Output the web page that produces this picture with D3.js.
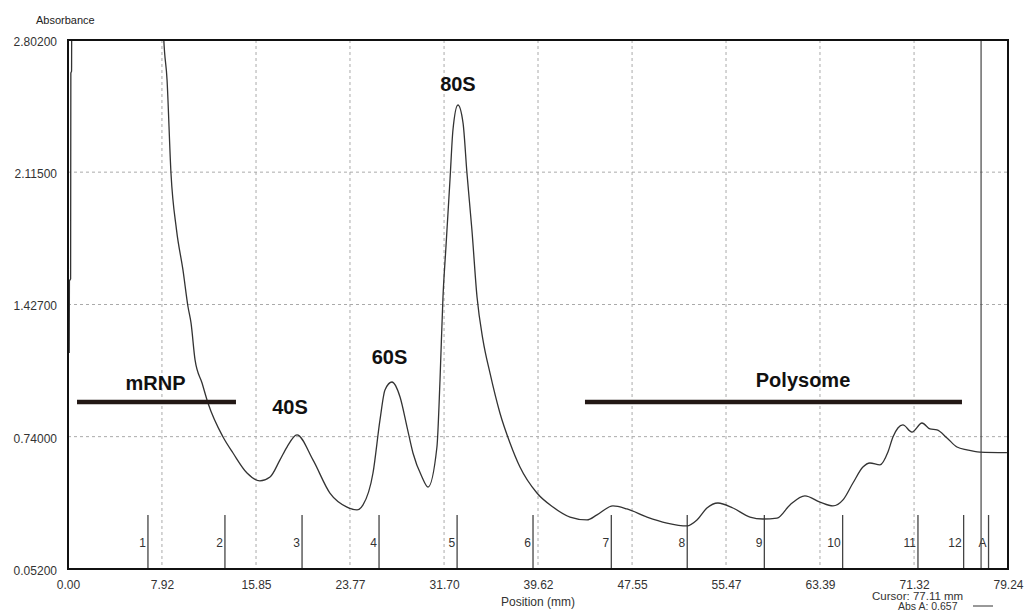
<!DOCTYPE html>
<html>
<head>
<meta charset="utf-8">
<script src="https://cdn.jsdelivr.net/npm/d3@7"></script>
<style>
  body { margin: 0; background: #fff; }
  svg { display: block; font-family: Arial, "Liberation Sans", sans-serif; }
</style>
</head>
<body>
<svg id="chart" width="1030" height="610"></svg>
<script>
// trace (mm, absorbance); values above 2.802 are off-scale
var positionMM = [0.10, 0.12, 0.22, 0.24, 0.30, 0.33, 7.9, 8.05, 8.35, 8.68, 9.15, 9.69, 10.12, 10.37, 10.71,
  11.30, 11.80, 13.07, 13.91, 15.09, 16.18, 17.03, 17.87, 18.46, 19.30, 20.65, 22.08, 23.52, 24.36,
  24.87, 25.71, 26.30, 26.72, 27.31, 27.99, 28.58, 29.08, 29.84, 30.35, 31.10, 31.36, 31.61, 31.86,
  32.20, 32.45, 32.87, 33.30, 33.63, 34.05, 34.48, 34.98, 35.57, 36.41, 37.26, 38.10, 39.53, 40.88,
  42.32, 43.75, 44.59, 45.94, 47.12, 48.81, 50.49, 52.18, 53.02, 53.86, 54.79, 56.05, 57.49, 58.58,
  59.77, 60.86, 62.12, 63.39, 64.48, 65.33, 66.17, 67.01, 67.60, 68.45, 69.12, 69.54, 69.96, 70.38,
  71.14, 71.99, 72.66, 73.25, 74.10, 74.94, 75.78, 76.88, 79.15];
var absorbance = [1.175, 1.55, 1.56, 2.63, 2.64, 3.4, 3.4, 2.84, 2.594, 2.111, 1.814, 1.607, 1.414, 1.331, 1.139,
  1.019, 0.915, 0.738, 0.655, 0.551, 0.510, 0.530, 0.619, 0.686, 0.749, 0.619, 0.447, 0.374, 0.359,
  0.385, 0.551, 0.827, 0.983, 1.024, 0.946, 0.790, 0.655, 0.530, 0.478, 0.686, 1.035, 1.466, 1.726,
  2.074, 2.334, 2.464, 2.371, 2.111, 1.814, 1.466, 1.243, 1.071, 0.863, 0.707, 0.582, 0.447, 0.374,
  0.322, 0.307, 0.333, 0.380, 0.364, 0.322, 0.291, 0.276, 0.307, 0.369, 0.395, 0.369, 0.322, 0.312,
  0.317, 0.385, 0.432, 0.400, 0.380, 0.411, 0.499, 0.582, 0.603, 0.593, 0.660, 0.738, 0.785, 0.801,
  0.764, 0.811, 0.780, 0.775, 0.733, 0.686, 0.671, 0.660, 0.657];

var xTicks = [0.00, 7.92, 15.85, 23.77, 31.70, 39.62, 47.55, 55.47, 63.39, 71.32, 79.24];
var yTicks = [0.052, 0.740, 1.427, 2.115, 2.802];

// fraction marks along the bottom
var fractionLabels = ["1", "2", "3", "4", "5", "6", "7", "8", "9", "10", "11", "12", "A"];
var fractionPos = [6.74, 13.23, 19.73, 26.22, 32.80, 39.20, 45.80, 52.20, 58.70, 65.30, 71.65, 75.50, 77.60];

// peak annotations
var peakLabels = ["mRNP", "40S", "60S", "80S", "Polysome"];
var peakLabelX = [7.38, 18.71, 27.10, 32.87, 61.96];
var peakLabelY = [0.983, 0.858, 1.118, 2.537, 0.998];
var barStart = [0.76, 43.58];
var barEnd = [14.16, 75.36];
var barLevel = [0.920, 0.920];

var cursorPos = 76.97;
var cursorText = "Cursor: 77.11 mm";
var absText = "Abs A: 0.657";

var svg = d3.select("#chart");
var pLeft = 68, pRight = 1008, pTop = 40, pBottom = 569;

var x = d3.scaleLinear().domain([0, 79.24]).range([pLeft, pRight]);
var y = d3.scaleLinear().domain([0.052, 2.802]).range([pBottom, pTop]);

svg.append("defs").append("clipPath").attr("id", "plotClip")
  .append("rect").attr("x", pLeft).attr("y", pTop).attr("width", pRight - pLeft).attr("height", pBottom - pTop);

// grid
svg.append("g").selectAll("line")
  .data(xTicks.slice(1, -1))
  .enter().append("line")
  .attr("x1", d => x(d)).attr("x2", d => x(d))
  .attr("y1", pTop).attr("y2", pBottom)
  .attr("stroke", "#aaa").attr("stroke-dasharray", "3,3");
svg.append("g").selectAll("line")
  .data(yTicks.slice(1, -1))
  .enter().append("line")
  .attr("x1", pLeft).attr("x2", pRight)
  .attr("y1", d => y(d)).attr("y2", d => y(d))
  .attr("stroke", "#aaa").attr("stroke-dasharray", "3,3");

// axes (labels only, no tick marks)
var xAxis = svg.append("g").attr("transform", "translate(0," + pBottom + ")")
  .call(d3.axisBottom(x).tickValues(xTicks).tickFormat(d3.format(".2f")).tickSize(0).tickPadding(11));
var yAxis = svg.append("g").attr("transform", "translate(" + pLeft + ",0)")
  .call(d3.axisLeft(y).tickValues(yTicks).tickFormat(d3.format(".5f")).tickSize(0).tickPadding(11));
[xAxis, yAxis].forEach(a => {
  a.select(".domain").remove();
  a.selectAll("text").attr("font-size", 12).attr("fill", "#333")
    .attr("font-family", "Arial, 'Liberation Sans', sans-serif");
});
yAxis.selectAll("text").attr("dy", "0.45em");

svg.append("text").attr("x", 36).attr("y", 24).attr("font-size", 11).attr("fill", "#222").text("Absorbance");
svg.append("text").attr("x", 538).attr("y", 606).attr("text-anchor", "middle")
  .attr("font-size", 12).attr("fill", "#333").text("Position (mm)");

// fraction marks
var fr = svg.append("g");
fr.selectAll("line").data(fractionPos).enter().append("line")
  .attr("x1", d => x(d)).attr("x2", d => x(d))
  .attr("y1", 515).attr("y2", pBottom)
  .attr("stroke", "#444").attr("stroke-width", 1.3);
fr.selectAll("text").data(fractionPos).enter().append("text")
  .attr("x", d => x(d) - 2).attr("y", 547)
  .attr("text-anchor", "end").attr("font-size", 12).attr("fill", "#333")
  .text((d, i) => fractionLabels[i]);

// cursor line
svg.append("line").attr("x1", x(cursorPos)).attr("x2", x(cursorPos))
  .attr("y1", pTop).attr("y2", pBottom).attr("stroke", "#444").attr("stroke-width", 1.2);

// trace
var traceData = positionMM.map((d, i) => [d, absorbance[i]]);
svg.append("path")
  .datum(traceData)
  .attr("clip-path", "url(#plotClip)")
  .attr("fill", "none")
  .attr("stroke", "#333")
  .attr("stroke-width", 1.3)
  .attr("d", d3.line().x(d => x(d[0])).y(d => y(d[1])).curve(d3.curveMonotoneX));

// frame
svg.append("rect").attr("x", pLeft).attr("y", pTop).attr("width", pRight - pLeft).attr("height", pBottom - pTop)
  .attr("fill", "none").attr("stroke", "#111").attr("stroke-width", 2);

// annotation bars and labels
svg.append("g").selectAll("line").data(barStart).enter().append("line")
  .attr("x1", d => x(d)).attr("x2", (d, i) => x(barEnd[i]))
  .attr("y1", (d, i) => y(barLevel[i])).attr("y2", (d, i) => y(barLevel[i]))
  .attr("stroke", "#231815").attr("stroke-width", 4.5);
svg.append("g").selectAll("text").data(peakLabels).enter().append("text")
  .attr("x", (d, i) => x(peakLabelX[i])).attr("y", (d, i) => y(peakLabelY[i]))
  .attr("text-anchor", "middle").attr("font-size", 20).attr("font-weight", "bold").attr("fill", "#111")
  .text(d => d);

// cursor readout
svg.append("text").attr("x", 872).attr("y", 599.5).attr("font-size", 11.5).attr("fill", "#333").text(cursorText);
svg.append("text").attr("x", 898).attr("y", 609.5).attr("font-size", 10.5).attr("fill", "#333").text(absText);
svg.append("line").attr("x1", 973).attr("x2", 993).attr("y1", 606).attr("y2", 606)
  .attr("stroke", "#333").attr("stroke-width", 1);
</script>
</body>
</html>
